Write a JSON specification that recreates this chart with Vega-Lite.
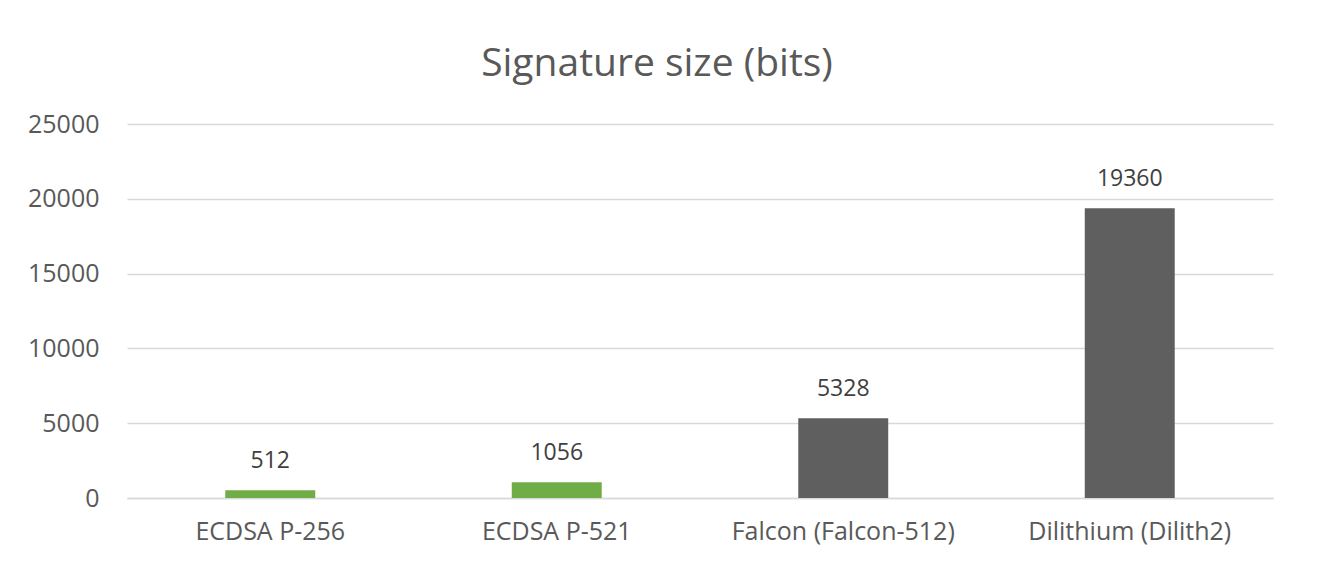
{
  "$schema": "https://vega.github.io/schema/vega-lite/v6.json",
  "width": 1146,
  "height": 374,
  "autosize": {"type": "none"},
  "padding": {"left": 127, "top": 124, "right": 54, "bottom": 77},
  "background": "white",
  "title": {
    "text": "Signature size (bits)",
    "anchor": "middle",
    "dx": -43,
    "fontSize": 39,
    "font": "Open Sans",
    "fontWeight": "normal",
    "color": "#595959",
    "offset": 28
  },
  "data": {
    "values": [
      {"scheme": "ECDSA P-256", "bits": 512, "family": "classical"},
      {"scheme": "ECDSA P-521", "bits": 1056, "family": "classical"},
      {"scheme": "Falcon (Falcon-512)", "bits": 5328, "family": "pq"},
      {"scheme": "Dilithium (Dilith2)", "bits": 19360, "family": "pq"}
    ]
  },
  "config": {
    "view": {"stroke": null},
    "font": "Open Sans"
  },
  "encoding": {
    "x": {
      "field": "scheme",
      "type": "nominal",
      "sort": null,
      "scale": {"paddingInner": 0.686, "paddingOuter": 0.343},
      "axis": {
        "title": null,
        "labelAngle": 0,
        "labelFontSize": 25,
        "labelLimit": 500,
        "labelColor": "#595959",
        "labelPadding": 21,
        "ticks": false,
        "domainColor": "#d9d9d9",
        "domainWidth": 1.5,
        "grid": false
      }
    },
    "y": {
      "field": "bits",
      "type": "quantitative",
      "scale": {"domain": [0, 25000], "nice": false},
      "axis": {
        "title": null,
        "values": [0, 5000, 10000, 15000, 20000, 25000],
        "format": "d",
        "labelFontSize": 25,
        "labelColor": "#595959",
        "labelPadding": 28,
        "ticks": false,
        "domain": false,
        "gridColor": "#d9d9d9",
        "gridWidth": 1.5
      }
    }
  },
  "layer": [
    {
      "mark": {"type": "bar"},
      "encoding": {
        "color": {
          "field": "family",
          "type": "nominal",
          "scale": {"domain": ["classical", "pq"], "range": ["#70AD47", "#5F5F5F"]},
          "legend": null
        }
      }
    },
    {
      "mark": {"type": "text", "dy": -29, "fontSize": 23, "color": "#404040", "baseline": "middle"},
      "encoding": {
        "text": {"field": "bits", "type": "quantitative", "format": "d"}
      }
    }
  ]
}
